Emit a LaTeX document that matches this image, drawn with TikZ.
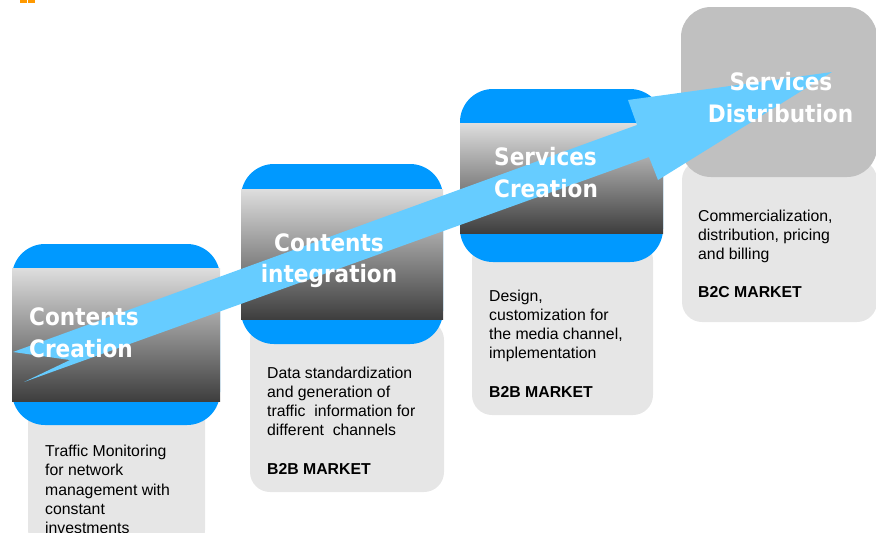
\documentclass[tikz,border=0pt]{standalone}
\usepackage{fontspec}
\setmainfont{Liberation Sans}
\newfontfamily\titlefont{DejaVu Sans}[FakeStretch=0.9]
\definecolor{stepblue}{RGB}{0,153,255}
\definecolor{arrowblue}{RGB}{102,204,255}
\definecolor{gtop}{RGB}{222,222,222}
\definecolor{gbot}{RGB}{62,62,62}
\definecolor{lgray}{RGB}{230,230,230}
\definecolor{dgray}{RGB}{192,192,192}
\definecolor{markorange}{RGB}{255,153,0}
\tikzset{
  textbox/.style={fill=lgray, rounded corners=20pt, inner sep=0pt},
  bluebox/.style={fill=stepblue, rounded corners=33pt, inner sep=0pt},
  gradbox/.style={top color=gtop, bottom color=gbot, draw=none, inner sep=0pt},
  distbox/.style={fill=dgray, rounded corners=30pt, inner sep=0pt},
  titletext/.style={text=white, inner sep=0pt, font=\titlefont\bfseries\fontsize{24}{32}\selectfont},
  bodytext/.style={text=black, inner sep=0pt, align=left, anchor=north west, font=\fontsize{15.8}{19.2}\selectfont},
  cornermark/.style={fill=markorange, inner sep=0pt, minimum width=7pt, minimum height=3.3pt}
}
\begin{document}
\begin{tikzpicture}[x=1pt,y=-1pt]
\useasboundingbox (0,0) rectangle (876,533);
% orange marks
\node[cornermark] (m1) at (23.5,1.65) {};
\node[cornermark] (m2) at (31.5,1.65) {};
% light text boxes
\node[textbox, minimum width=177pt, minimum height=155pt] (l1) at (116.5,472.5) {};
\node[textbox, minimum width=194pt, minimum height=172pt] (l2) at (347,406) {};
\node[textbox, minimum width=181pt, minimum height=175pt] (l3) at (562.5,327.5) {};
\node[textbox, minimum width=195pt, minimum height=162pt] (l4) at (779.5,241) {};
% blue step boxes with gradient bands
\node[bluebox, minimum width=208pt, minimum height=181pt] (b1) at (116,334.5) {};
\node[gradbox, minimum width=208pt, minimum height=133pt] (g1) at (116,334.5) {};
\node[bluebox, minimum width=202pt, minimum height=180pt] (b2) at (342,254) {};
\node[gradbox, minimum width=202pt, minimum height=130pt] (g2) at (342,254) {};
\node[bluebox, minimum width=203pt, minimum height=173pt] (b3) at (561.5,175.5) {};
\node[gradbox, minimum width=203pt, minimum height=110pt] (g3) at (561.5,178) {};
\node[distbox, minimum width=196pt, minimum height=170pt] (d4) at (779,92) {};
% big arrow
\fill[arrowblue] (13,352) -- (637,125) -- (628,100) -- (832,72) -- (658,180)
  -- (649,157) -- (24,382) -- (70,360) -- cycle;
% titles
\node[titletext, anchor=base west] (t1a) at (29,325) {Contents};
\node[titletext, anchor=base west] (t1b) at (29,357) {Creation};
\node[titletext, anchor=base] (t2a) at (329,251) {Contents};
\node[titletext, anchor=base] (t2b) at (329,282) {integration};
\node[titletext, anchor=base west] (t3a) at (494,165) {Services};
\node[titletext, anchor=base west] (t3b) at (494,197) {Creation};
\node[titletext, anchor=base] (t4a) at (781,90) {Services};
\node[titletext, anchor=base] (t4b) at (780.5,122) {Distribution};
% body texts
\node[bodytext] (x1) at (45,445) {Traffic Monitoring\\for network\\management with\\constant\\investments};
\node[bodytext] (x2) at (267,366.5) {Data standardization\\and generation of\\traffic~ information for\\different~ channels\\[19.2pt]\textbf{B2B MARKET}};
\node[bodytext] (x3) at (489,289.7) {Design,\\customization for\\the media channel,\\implementation\\[19.2pt]\textbf{B2B MARKET}};
\node[bodytext] (x4) at (698,209.5) {Commercialization,\\distribution, pricing\\and billing\\[19.2pt]\textbf{B2C MARKET}};
\end{tikzpicture}
\end{document}
